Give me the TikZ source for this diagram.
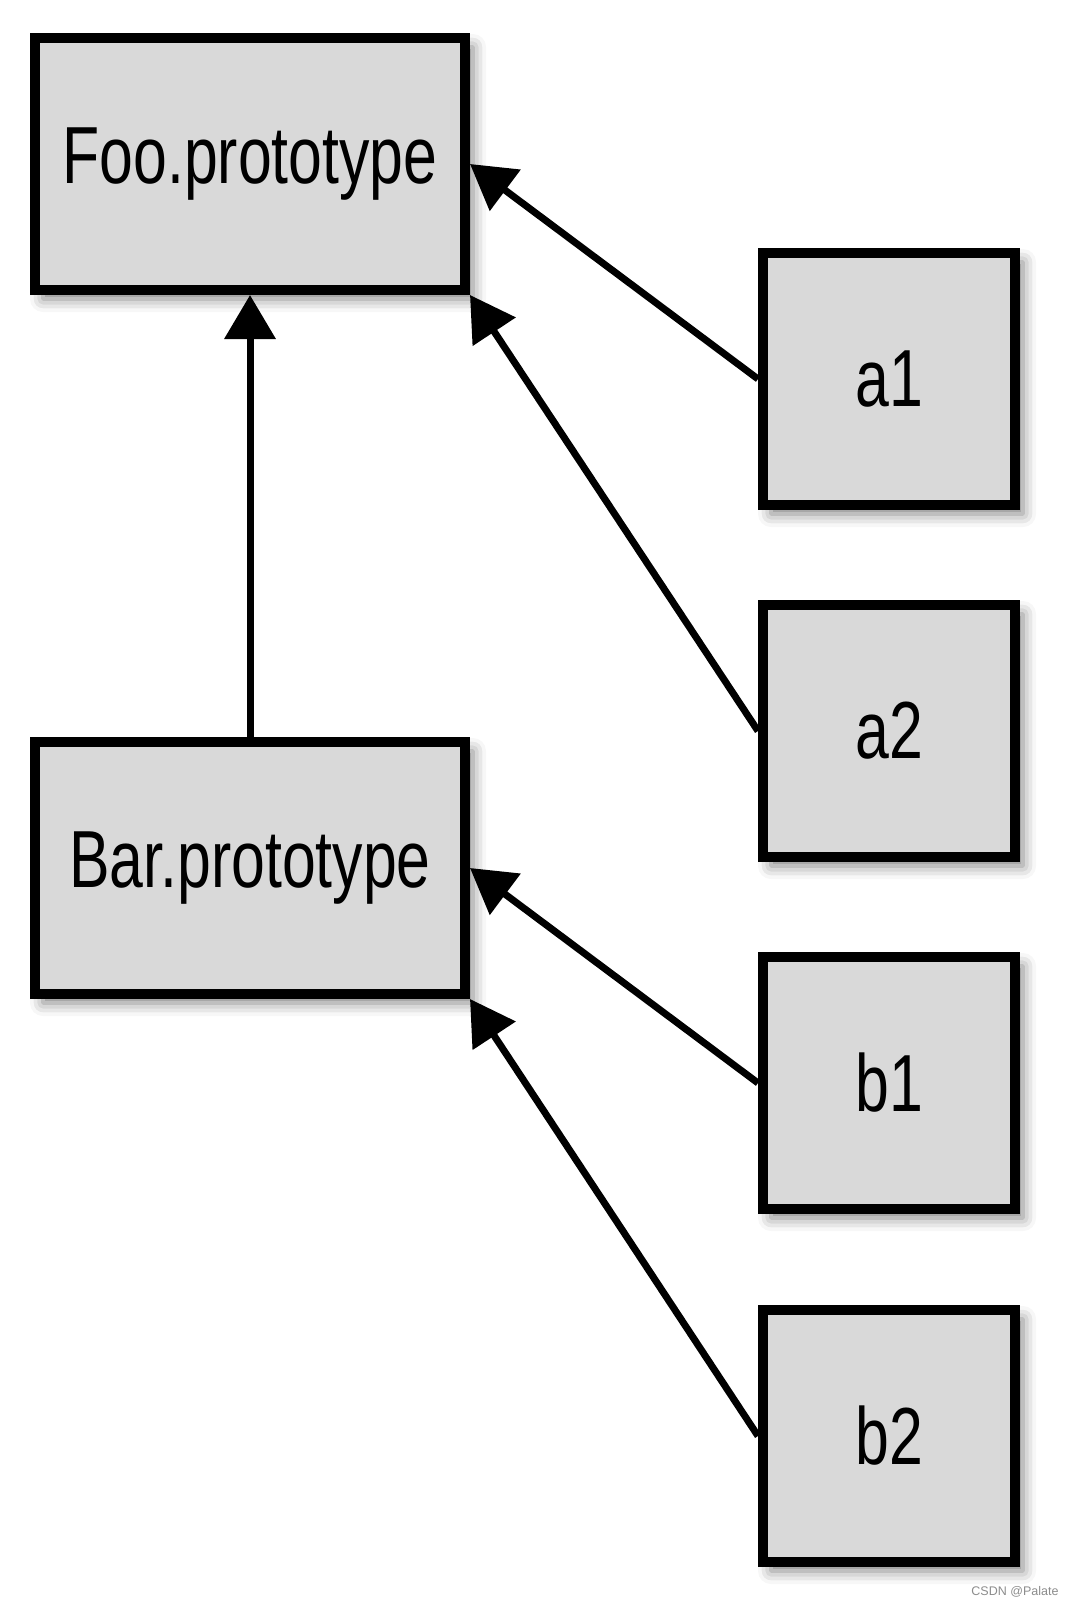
\documentclass[tikz,border=0pt]{standalone}
\usepackage{fontspec}
\newfontfamily\boxfont[FakeStretch=0.75]{Liberation Sans}
\newfontfamily\markfont{Liberation Sans}
\usepackage{tikz}
\usetikzlibrary{positioning}
\usetikzlibrary{arrows.meta}
\usetikzlibrary{shadows.blur}

\begin{document}
\begin{tikzpicture}[%
    x = 1pt, y = -1pt,
    >={Triangle[length=44pt,width=50pt]},
    basic/.style={draw,line width=10pt,fill=black!15,font=\boxfont\fontsize{81}{90}\selectfont,
        blur shadow={shadow xshift=8pt,shadow yshift=-9pt,shadow blur radius=13pt,shadow opacity=50}},
    proto/.style={basic,rectangle,minimum width=430pt,minimum height=252pt},
    inst/.style={basic,rectangle,minimum width=252pt,minimum height=252pt},
    link/.style={draw,line width=7pt,->}
]
        \useasboundingbox (0,0) rectangle (1080,1624);
        \node[proto] (foo) at (250,164) {Foo.prototype};
        \node[proto, below = 442pt of foo] (bar) {Bar.prototype};
        \node[inst] (a1) at (889,379) {a1};
        \node[inst, below = 90pt of a1] (a2) {a2};
        \node[inst, below = 90pt of a2] (b1) {b1};
        \node[inst, below = 91pt of b1] (b2) {b2};

        \path[link] (bar) -- (foo);
        \path[link] (a1.west) -- (foo.east);
        \path[link] (a2.west) -- (foo.south east);
        \path[link] (b1.west) -- (bar.east);
        \path[link] (b2.west) -- (bar.south east);

        \node[text=black!45,font=\markfont\fontsize{12.5}{15}\selectfont,anchor=east] (mark) at (1062,1592) {CSDN @Palate};
\end{tikzpicture}
\end{document}
